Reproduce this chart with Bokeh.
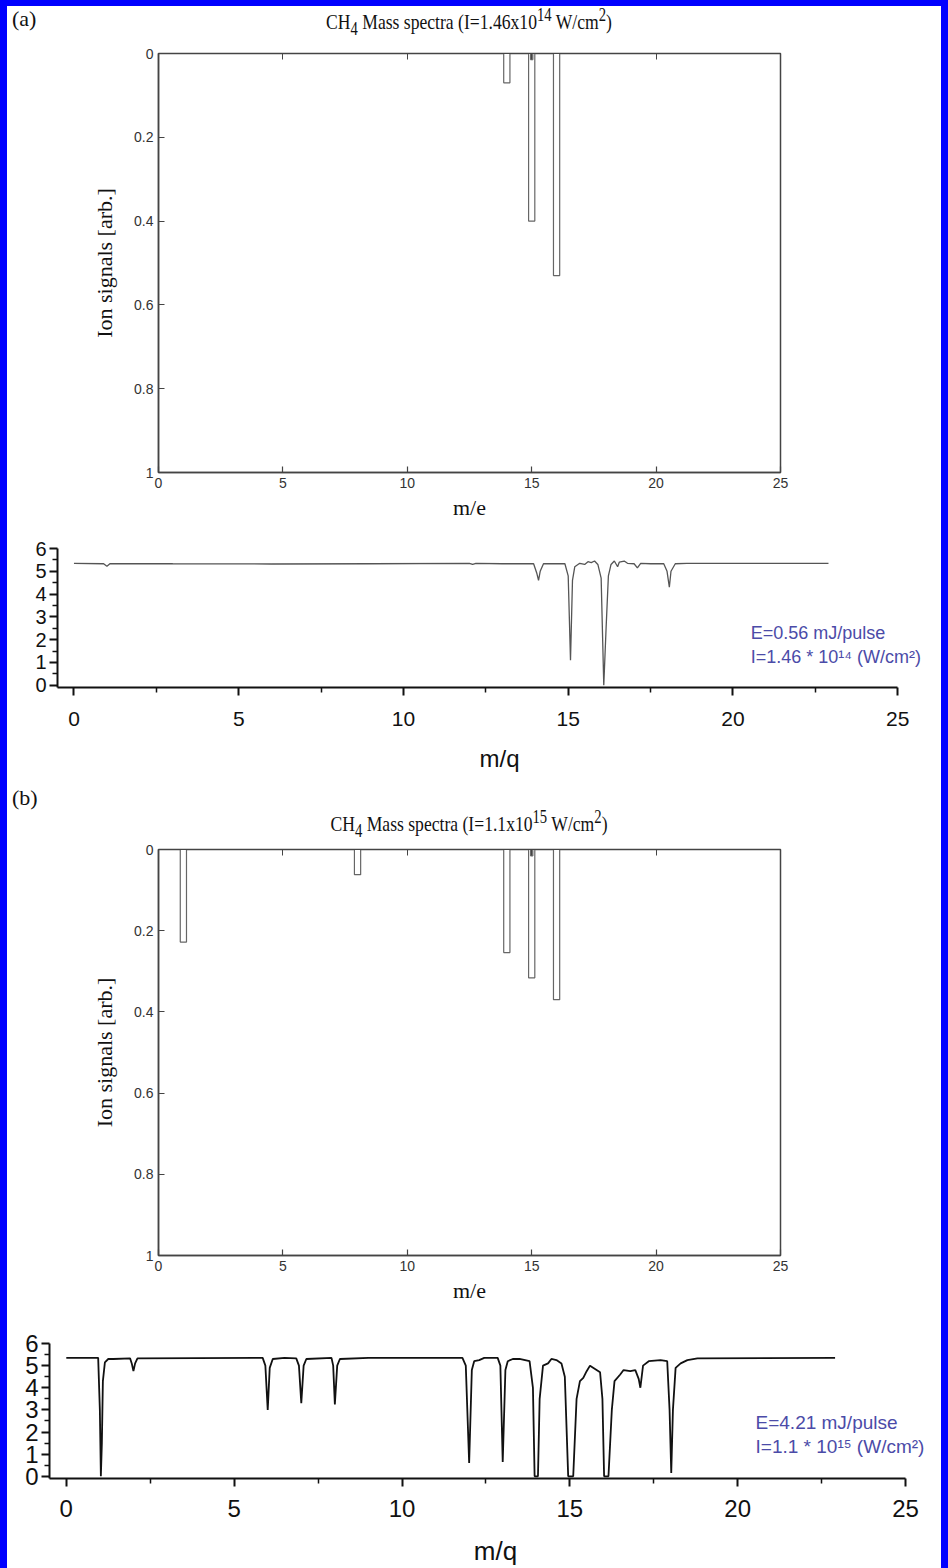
from bokeh.plotting import figure
from bokeh.models import Range1d, Label, LinearAxis, FixedTicker, Div, CustomJSTickFormatter
from bokeh.layouts import column
from bokeh.embed import file_html
from bokeh.resources import INLINE

# ---------------- data ----------------
# panel (a) bar spectrum
mass_a = [14, 15, 16]
ion_a = [0.07, 0.40, 0.53]
mass_a_minor = [15]
ion_a_minor = [0.015]

# panel (b) bar spectrum
mass_b = [1, 8, 14, 15, 16]
ion_b = [0.228, 0.062, 0.254, 0.316, 0.370]
mass_b_minor = [15]
ion_b_minor = [0.016]

# measured TOF spectrum (a), E=0.56 mJ/pulse
mq_a = [0.0, 0.9, 1.0, 1.1, 3.0, 6.0, 9.0, 12.0, 12.1, 12.2, 13.0, 13.95, 14.05, 14.1, 14.15,
        14.25, 14.9, 15.0, 15.07, 15.13, 15.2, 15.35, 15.5, 15.6, 15.7, 15.8, 15.9, 16.0,
        16.08, 16.15, 16.22, 16.3, 16.4, 16.5, 16.55, 16.7, 16.8, 17.0, 17.1, 17.2, 17.5,
        17.9, 18.0, 18.07, 18.12, 18.25, 18.6, 22.9]
sig_a = [5.35, 5.33, 5.22, 5.34, 5.33, 5.32, 5.33, 5.35, 5.30, 5.35, 5.33, 5.33, 4.9, 4.6, 5.0,
         5.33, 5.33, 4.8, 1.1, 4.6, 5.2, 5.35, 5.3, 5.42, 5.38, 5.45, 5.3, 4.7,
         0.0, 2.5, 4.8, 5.3, 5.45, 5.2, 5.4, 5.45, 5.35, 5.33, 5.15, 5.35, 5.33,
         5.33, 5.0, 4.3, 5.0, 5.33, 5.35, 5.35]

# measured TOF spectrum (b), E=4.21 mJ/pulse
mq_b = [0.0, 0.95, 1.0, 1.03, 1.06, 1.09, 1.15, 1.25, 1.4, 1.9, 1.95, 2.0, 2.05, 2.12,
        5.85, 5.93, 6.0, 6.06, 6.15, 6.5, 6.85, 6.93, 7.0, 7.07, 7.15, 7.9, 7.95, 8.0, 8.07,
        8.15, 9.0, 11.8, 11.9, 12.0, 12.08, 12.15, 12.3, 12.45, 12.85, 12.93, 13.0, 13.08,
        13.15, 13.3, 13.5, 13.8, 13.9, 13.95, 14.05, 14.1, 14.2, 14.35, 14.45, 14.6, 14.75,
        14.85, 14.95, 15.1, 15.2, 15.3, 15.4, 15.5, 15.6, 15.75, 15.9, 15.97, 16.02, 16.15,
        16.25, 16.33, 16.5, 16.6, 16.8, 16.95, 17.05, 17.1, 17.18, 17.35, 17.7, 17.9, 17.97,
        18.02, 18.07, 18.15, 18.3, 18.5, 18.8, 22.9]
sig_b = [5.35, 5.35, 3.0, 0.0, 1.5, 4.3, 5.15, 5.3, 5.3, 5.33, 5.1, 4.75, 5.1, 5.33,
         5.35, 5.0, 3.0, 4.9, 5.3, 5.35, 5.33, 5.0, 3.3, 5.0, 5.3, 5.35, 5.0, 3.25, 5.0,
         5.3, 5.35, 5.35, 5.0, 0.6, 4.8, 5.2, 5.25, 5.35, 5.35, 5.0, 0.65, 4.8,
         5.2, 5.3, 5.3, 5.2, 4.0, 0.0, 0.0, 3.5, 5.0, 5.1, 5.3, 5.25, 5.1,
         4.5, 0.0, 0.0, 3.5, 4.3, 4.45, 4.75, 5.0, 4.85, 4.7, 3.5, 0.0, 0.0,
         3.0, 4.3, 4.6, 4.8, 4.75, 4.8, 4.4, 4.0, 5.0, 5.2, 5.25, 5.2, 3.0,
         0.15, 3.0, 4.9, 5.1, 5.25, 5.33, 5.35]

bar_ticks = [0, 5, 10, 15, 20, 25]
ion_ticks = [0, 0.2, 0.4, 0.6, 0.8, 1.0]
ion_tick_labels = {0: "0", 0.2: "0.2", 0.4: "0.4", 0.6: "0.6", 0.8: "0.8", 1.0: "1"}
sig_ticks = [0, 1, 2, 3, 4, 5, 6]

SERIF = "Liberation Serif"
SANS = "Liberation Sans"
NARROW = "Liberation Sans Narrow, Liberation Sans, sans-serif"
W = 934
BLUE = "#0000ff"


def title_div(height, letter, letter_top, title_html, title_top):
    html = (
        f'<div style="position:relative;width:{W}px;height:{height}px;'
        f'font-family:\'Liberation Serif\',serif;font-size:22px;color:#111;line-height:1;">'
        f'<span style="position:absolute;left:5px;top:{letter_top}px;">{letter}</span>'
        f'<span style="position:absolute;left:151px;width:622px;top:{title_top}px;'
        f'text-align:center;white-space:nowrap;transform:scaleX(0.8);">{title_html}</span></div>'
    )
    return Div(text=html, width=W, height=height, margin=0)


def bar_panel(height, top, bottom, masses, ions, mmass, mions):
    p = figure(width=W, height=height, output_backend="svg", toolbar_location=None,
               x_range=Range1d(0, 25), y_range=Range1d(1, 0),
               min_border_left=151, min_border_right=161,
               min_border_top=top, min_border_bottom=bottom,
               background_fill_color="white", border_fill_color="white")
    p.grid.visible = False
    p.outline_line_color = "#444444"
    p.outline_line_width = 1.5
    p.vbar(x=masses, top=ions, bottom=0, width=0.25, fill_color="white",
           line_color="#666666", line_width=1.2)
    p.vbar(x=mmass, top=mions, bottom=0, width=0.1, fill_color="#777777",
           line_color="#666666", line_width=1)
    for ax in (p.xaxis[0], p.yaxis[0]):
        ax.axis_line_color = "#444444"
        ax.axis_line_width = 1.5
        ax.major_tick_in = 6
        ax.major_tick_out = 0
        ax.major_tick_line_color = "#444444"
        ax.major_tick_line_width = 1.2
        ax.minor_tick_line_color = None
        ax.major_label_text_font = SANS
        ax.major_label_text_font_size = "14px"
        ax.major_label_text_color = "#333333"
        ax.axis_label_text_font = SERIF
        ax.axis_label_text_font_style = "normal"
        ax.axis_label_text_font_size = "22px"
        ax.axis_label_text_color = "#111111"
    p.xaxis.ticker = FixedTicker(ticks=bar_ticks)
    p.yaxis.ticker = FixedTicker(ticks=ion_ticks)
    p.yaxis.major_label_overrides = ion_tick_labels
    p.xaxis.axis_label = "m/e"
    p.yaxis.axis_label = "Ion signals [arb.]"
    p.xaxis.axis_label_standoff = 4
    p.yaxis.axis_label_standoff = 14
    top_ax = LinearAxis(ticker=FixedTicker(ticks=bar_ticks), major_tick_in=6, major_tick_out=0,
                        formatter=CustomJSTickFormatter(code="return ''"),
                        axis_line_color="#444444", major_tick_line_color="#444444",
                        minor_tick_line_color=None, major_label_standoff=0)
    p.add_layout(top_ax, "above")
    return p


def spec_panel(height, top, bottom, left, xend, xs, ys, lw, lcol, lab_fs, tick_fs, ylab_fs,
               text1, text2, tx, ty1, ty2, txt_fs, xstand):
    p = figure(width=W, height=height, output_backend="svg", toolbar_location=None,
               x_range=Range1d(-0.5, xend), y_range=Range1d(-0.1, 6.0),
               min_border_left=left, min_border_right=0,
               min_border_top=top, min_border_bottom=bottom,
               background_fill_color="white", border_fill_color="white")
    p.grid.visible = False
    p.outline_line_color = None
    p.line(xs, ys, line_color=lcol, line_width=lw)
    for ax in (p.xaxis[0], p.yaxis[0]):
        ax.axis_line_color = "#111111"
        ax.axis_line_width = 2
        ax.major_tick_in = 0
        ax.major_tick_out = 8
        ax.minor_tick_in = 0
        ax.minor_tick_out = 5
        ax.major_tick_line_color = "#111111"
        ax.major_tick_line_width = 2
        ax.minor_tick_line_color = "#111111"
        ax.minor_tick_line_width = 1.5
        ax.major_label_text_font = NARROW
        ax.major_label_text_color = "#111111"
        ax.axis_label_text_font = NARROW
        ax.axis_label_text_font_style = "normal"
        ax.axis_label_text_color = "#111111"
    p.xaxis.bounds = (-0.5, 25)
    p.xaxis.ticker = FixedTicker(ticks=bar_ticks, minor_ticks=[2.5, 7.5, 12.5, 17.5, 22.5])
    p.yaxis.ticker = FixedTicker(ticks=sig_ticks, minor_ticks=[0.5, 1.5, 2.5, 3.5, 4.5, 5.5])
    p.xaxis.major_label_text_font_size = tick_fs
    p.yaxis.major_label_text_font_size = ylab_fs
    p.xaxis.major_label_standoff = xstand
    p.yaxis.major_label_standoff = 3
    p.xaxis.axis_label = "m/q"
    p.xaxis.axis_label_text_font_size = lab_fs
    p.xaxis.axis_label_standoff = 16
    p.add_layout(Label(x=tx, y=ty1, text=text1, text_align="left", text_baseline="middle",
                       text_font=NARROW, text_font_size=txt_fs, text_color="#4b4ba8"))
    p.add_layout(Label(x=tx, y=ty2, text=text2, text_align="left", text_baseline="middle",
                       text_font=NARROW, text_font_size=txt_fs, text_color="#4b4ba8"))
    return p


divA = title_div(35, "(a)", 2, "CH<sub>4</sub> Mass spectra (I=1.46x10<sup>14</sup> W/cm<sup>2</sup>)", 0)
figA = bar_panel(484, 12, 53, mass_a, ion_a, mass_a_minor, ion_a_minor)
figB = spec_panel(255, 23, 93, 50, 26.33, mq_a, sig_a, 1.3, "#555555", "24px", "21px", "20px",
                  "E=0.56 mJ/pulse", "I=1.46 * 10¹⁴ (W/cm²)", 20.54, 2.28, 1.23, "18px", 16)
divC = title_div(57, "(b)", 7, "CH<sub>4</sub> Mass spectra (I=1.1x10<sup>15</sup> W/cm<sup>2</sup>)", 28)
figC = bar_panel(473, 12, 55, mass_b, ion_b, mass_b_minor, ion_b_minor)
figD = spec_panel(258, 33, 89, 42, 26.07, mq_b, sig_b, 1.8, "#111111", "26px", "24px", "24px",
                  "E=4.21 mJ/pulse", "I=1.1 * 10¹⁵ (W/cm²)", 20.53, 2.42, 1.34, "19px", 13)

side = {"border-left": f"7px solid {BLUE}", "border-right": f"7px solid {BLUE}",
        "background-color": "white", "display": "block"}
first = dict(side, **{"border-top": f"6px solid {BLUE}"})

roots = [
    column(divA, figA, spacing=0, styles=first),
    column(figB, spacing=0, styles=side),
    column(divC, figC, spacing=0, styles=side),
    column(figD, spacing=0, styles=side),
]

open("out.html", "w").write(file_html(roots, INLINE))
